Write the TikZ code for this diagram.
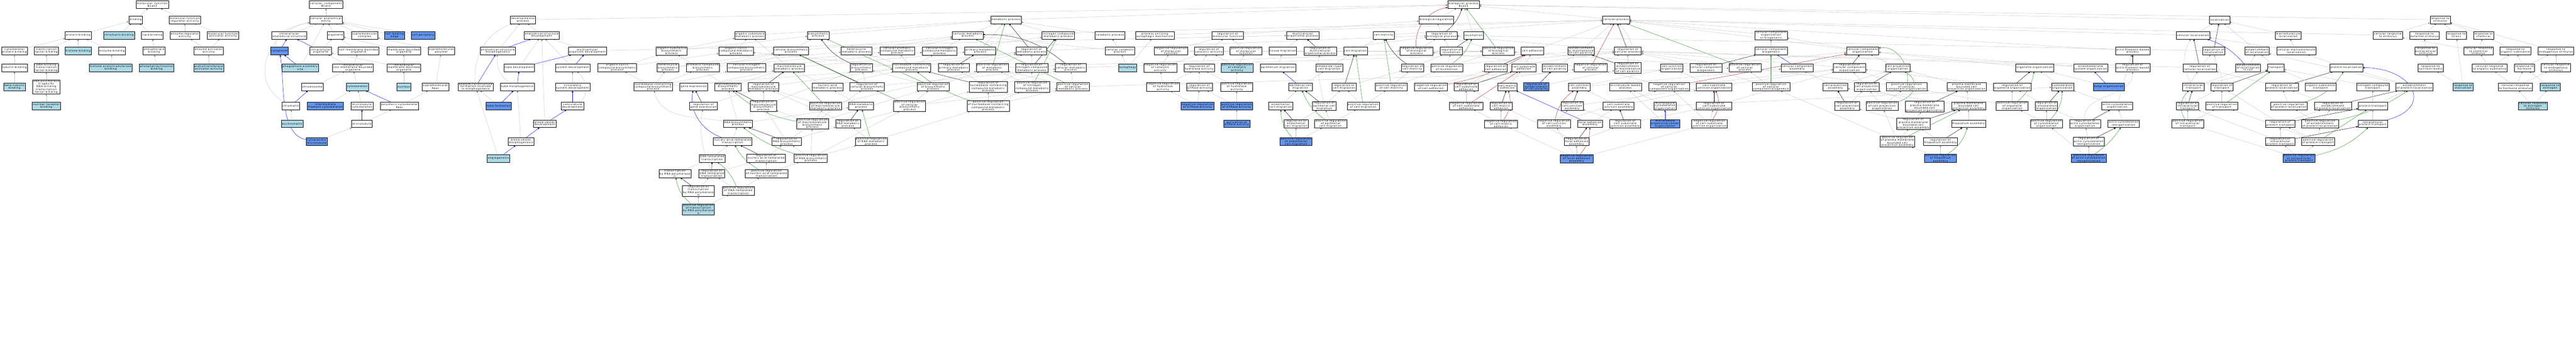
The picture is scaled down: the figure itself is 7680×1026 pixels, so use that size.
\documentclass[tikz,border=0pt]{standalone}
\usepackage{fontspec}
\setmainfont{DejaVu Sans}[LetterSpace=16]
\usetikzlibrary{arrows.meta,backgrounds,shadows}
\definecolor{lb}{HTML}{ADD8E6}
\definecolor{cb}{HTML}{6495ED}
\definecolor{edgegray}{HTML}{C4C4C4}
\definecolor{fgreen}{HTML}{228B22}
\definecolor{fred}{HTML}{B22222}

\begin{document}
\begin{tikzpicture}[x=1pt,y=1pt,
  term/.style={draw=black, line width=0.7pt, fill=white, align=center, inner xsep=2.5pt, inner ysep=1pt,
    minimum height=23pt, font=\fontsize{7.5}{7}\selectfont,
    drop shadow={shadow xshift=0.7pt,shadow yshift=-0.7pt,fill=black!45}},
  anno/.style={term, fill=lb},
  direct/.style={term, fill=cb},
  isa/.style={draw=edgegray, line width=0.7pt, -{Triangle[length=5pt,width=5pt]}},
  partof/.style={isa, draw=blue},
  reg/.style={isa, draw=black},
  preg/.style={isa, draw=fgreen},
  nreg/.style={isa, draw=fred}]
\useasboundingbox (0,0) rectangle (7680,-1026);

% molecular function
\node[term] (mf) at (454,-14) {molecular\_function\\Bcas3};
\node[term] (binding) at (404,-59) {binding};
\node[term] (mfreg) at (551,-59) {molecular function\\regulator activity};
\node[term] (protbind) at (233,-105) {protein binding};
\node[anno] (chrombind) at (355,-105) {chromatin binding};
\node[term] (lipidbind) at (454,-105) {lipid binding};
\node[term] (enzreg) at (551,-105) {enzyme regulator\\activity};
\node[term] (mfact) at (665,-105) {molecular function\\activator activity};
\node[term] (cytoskbind) at (43,-152) {cytoskeletal\\protein binding};
\node[term] (tfbind) at (138,-152) {transcription\\factor binding};
\node[anno] (histbind) at (233,-152) {histone binding};
\node[term] (enzbind) at (334,-152) {enzyme binding};
\node[term] (phosbind) at (459,-152) {phospholipid\\binding};
\node[term] (enzact) at (622,-152) {enzyme activator\\activity};
\node[term] (tubbind) at (43,-202) {tubulin binding};
\node[term] (dbtf) at (138,-202) {DNA-binding\\transcription\\factor binding};
\node[anno] (hatbind) at (330,-202) {histone acetyltransferase\\binding};
\node[anno] (ptdbind) at (467,-202) {phosphatidylinositol\\binding};
\node[anno] (actact) at (622,-202) {acetyltransferase\\activator activity};
\node[anno] (btub) at (43,-259) {beta-tubulin\\binding};
\node[term] (pol2tf) at (138,-259) {RNA polymerase\\II-specific\\DNA-binding\\transcription\\factor binding};
\node[anno] (nrbind) at (138,-316) {nuclear receptor\\binding};

% cellular component
\node[term] (cc) at (972,-14) {cellular\_component\\Bcas3};
\node[term] (cae) at (972,-59) {cellular anatomical\\entity};
\node[term] (ias) at (862,-105) {intracellular\\anatomical structure};
\node[term] (organelle) at (1000,-105) {organelle};
\node[term] (smc) at (1087,-105) {supramolecular\\complex};
\node[direct] (cle) at (1176,-105) {cell leading\\edge};
\node[direct] (cellper) at (1261,-105) {cell periphery};
\node[direct] (cytoplasm) at (833,-152) {cytoplasm};
\node[term] (io) at (956,-152) {intracellular\\organelle};
\node[term] (nmbo) at (1069,-152) {non-membrane-bounded\\organelle};
\node[term] (mbo) at (1204,-152) {membrane-bounded\\organelle};
\node[term] (smp) at (1316,-152) {supramolecular\\polymer};
\node[anno] (pas) at (895,-202) {phagophore assembly\\site};
\node[term] (inmbo) at (1052,-202) {intracellular\\non-membrane-bounded\\organelle};
\node[term] (imbo) at (1204,-202) {intracellular\\membrane-bounded\\organelle};
\node[term] (chromosome) at (931,-259) {chromosome};
\node[anno] (cytoskel) at (1065,-259) {cytoskeleton};
\node[anno] (nucleus) at (1204,-259) {nucleus};
\node[term] (smf) at (1298,-259) {supramolecular\\fiber};
\node[term] (chromatin) at (867,-316) {chromatin};
\node[direct] (ifc) at (970,-316) {intermediate\\filament cytoskeleton};
\node[term] (mtc) at (1079,-316) {microtubule\\cytoskeleton};
\node[term] (pcf) at (1191,-316) {polymeric cytoskeletal\\fiber};
\node[anno] (euchrom) at (871,-369) {euchromatin};
\node[term] (microtub) at (1079,-369) {microtubule};
\node[direct] (cmt) at (944,-422) {cytoplasmic\\microtubule};

% development
\node[term] (devproc) at (1559,-59) {developmental\\process};
\node[term] (asd) at (1615,-105) {anatomical structure\\development};
\node[term] (asm) at (1484,-152) {anatomical structure\\morphogenesis};
\node[term] (mod) at (1751,-152) {multicellular\\organism development};
\node[term] (tubedev) at (1548,-202) {tube development};
\node[term] (sysdev) at (1707,-202) {system development};
\node[term] (ocbp) at (1840,-202) {organic cyclic\\compound biosynthetic\\process};
\node[term] (asfm) at (1418,-259) {anatomical structure\\formation involved\\in morphogenesis};
\node[term] (tubemorph) at (1542,-259) {tube morphogenesis};
\node[term] (csd) at (1707,-259) {circulatory\\system development};
\node[term] (nbcbp) at (1947,-259) {nucleobase-containing\\compound biosynthetic\\process};
\node[direct] (tubeform) at (1486,-316) {tube formation};
\node[term] (vascdev) at (1707,-316) {vasculature\\development};
\node[term] (bvd) at (1624,-369) {blood vessel\\development};
\node[term] (bvm) at (1553,-422) {blood vessel\\morphogenesis};
\node[anno] (angio) at (1486,-472) {angiogenesis};

% biosynthesis and transcription
\node[term] (osmp) at (2236,-105) {organic substance\\metabolic process};
\node[term] (biosyn) at (2439,-105) {biosynthetic\\process};
\node[term] (osbp) at (2002,-152) {organic substance\\biosynthetic\\process};
\node[term] (ocmp) at (2194,-152) {organic cyclic\\compound metabolic\\process};
\node[term] (cbp) at (2358,-152) {cellular biosynthetic\\process};
\node[term] (hmp) at (2553,-152) {heterocycle\\metabolic process};
\node[term] (hbp) at (1991,-202) {heterocycle\\biosynthetic\\process};
\node[term] (acbp) at (2095,-202) {aromatic compound\\biosynthetic\\process};
\node[term] (cncbp) at (2225,-202) {cellular nitrogen\\compound biosynthetic\\process};
\node[term] (mmp) at (2353,-202) {macromolecule\\metabolic process};
\node[term] (rbp) at (2568,-202) {regulation of\\biosynthetic\\process};
\node[term] (geneexp) at (2068,-259) {gene expression};
\node[term] (mbp) at (2170,-259) {macromolecule\\biosynthetic\\process};
\node[term] (rmmp) at (2276,-259) {regulation of\\macromolecule\\metabolic process};
\node[term] (namp) at (2467,-259) {nucleic acid\\metabolic process};
\node[term] (rcbp) at (2585,-259) {regulation of\\cellular biosynthetic\\process};
\node[term] (rge) at (2097,-316) {regulation of\\gene expression};
\node[term] (rmbp) at (2276,-316) {regulation of\\macromolecule\\biosynthetic\\process};
\node[term] (prmmp) at (2461,-316) {positive regulation\\of macromolecule\\metabolic process};
\node[term] (rnamp) at (2567,-316) {RNA metabolic\\process};
\node[term] (rnabp) at (2200,-369) {RNA biosynthetic\\process};
\node[term] (prmbp) at (2422,-369) {positive regulation\\of macromolecule\\biosynthetic\\process};
\node[term] (rrnamp) at (2528,-369) {regulation of\\RNA metabolic\\process};
\node[term] (natt) at (2184,-422) {nucleic acid-templated\\transcription};
\node[term] (rrnabp) at (2345,-422) {regulation of\\RNA biosynthetic\\process};
\node[term] (prrnamp) at (2597,-422) {positive regulation\\of RNA metabolic\\process};
\node[term] (dtt) at (2123,-472) {DNA-templated\\transcription};
\node[term] (rnatt) at (2284,-472) {regulation of\\nucleic acid-templated\\transcription};
\node[term] (prrnabp) at (2417,-472) {positive regulation\\of RNA biosynthetic\\process};
\node[term] (tpol2) at (2012,-518) {transcription\\by RNA polymerase\\II};
\node[term] (rdtt) at (2122,-518) {regulation of\\DNA-templated\\transcription};
\node[term] (prnatt) at (2285,-518) {positive regulation\\of nucleic acid-templated\\transcription};
\node[term] (rtpol2) at (2082,-569) {regulation of\\transcription\\by RNA polymerase\\II};
\node[term] (prdtt) at (2201,-569) {positive regulation\\of DNA-templated\\transcription};
\node[anno] (prtpol2) at (2082,-624) {positive regulation\\of transcription\\by RNA polymerase\\II};

% metabolism
\node[term] (metab) at (2999,-59) {metabolic process};
\node[term] (cmp) at (2885,-105) {cellular metabolic\\process};
\node[term] (ncmp) at (3155,-105) {nitrogen compound\\metabolic process};
\node[term] (camp) at (2675,-152) {cellular aromatic\\compound metabolic\\process};
\node[term] (cncmp) at (2801,-152) {cellular nitrogen\\compound metabolic\\process};
\node[term] (pmp) at (2922,-152) {primary metabolic\\process};
\node[term] (rmp) at (3075,-152) {regulation of\\metabolic process};
\node[term] (nbcmp) at (2718,-202) {nucleobase-containing\\compound metabolic\\process};
\node[term] (rpmp) at (2843,-202) {regulation of\\primary metabolic\\process};
\node[term] (prmp) at (2958,-202) {positive regulation\\of metabolic\\process};
\node[term] (rncmp) at (3076,-202) {regulation of\\nitrogen compound\\metabolic process};
\node[term] (rcmp) at (3192,-202) {regulation of\\cellular metabolic\\process};
\node[term] (pbp) at (2782,-259) {positive regulation\\of biosynthetic\\process};
\node[term] (rnbcmp) at (2946,-259) {regulation of\\nucleobase-containing\\compound metabolic\\process};
\node[term] (prncmp) at (3077,-259) {positive regulation\\of nitrogen\\compound metabolic\\process};
\node[term] (prcmp) at (3199,-259) {positive regulation\\of cellular\\metabolic process};
\node[term] (prcbp) at (2712,-316) {positive regulation\\of cellular\\biosynthetic\\process};
\node[term] (prnbcmp) at (2946,-316) {positive regulation\\of nucleobase-containing\\compound metabolic\\process};

% catabolism, molecular function regulation
\node[term] (catab) at (3309,-105) {catabolic process};
\node[term] (pum) at (3443,-105) {process utilizing\\autophagic mechanism};
\node[term] (rmf) at (3660,-105) {regulation of\\molecular function};
\node[term] (mop) at (3884,-105) {multicellular\\organismal process};
\node[term] (ccp) at (3339,-152) {cellular catabolic\\process};
\node[term] (nrmf) at (3491,-152) {negative regulation\\of molecular\\function};
\node[term] (rca) at (3604,-152) {regulation of\\catalytic activity};
\node[term] (prmf) at (3715,-152) {positive regulation\\of molecular\\function};
\node[term] (tissmig) at (3824,-152) {tissue migration};
\node[anno] (autophagy) at (3362,-202) {autophagy};
\node[term] (nrca) at (3459,-202) {negative regulation\\of catalytic\\activity};
\node[term] (rha) at (3575,-202) {regulation of\\hydrolase activity};
\node[anno] (prca) at (3688,-202) {positive regulation\\of catalytic\\activity};
\node[term] (epimig) at (3810,-202) {epithelium migration};
\node[term] (nrha) at (3467,-259) {negative regulation\\of hydrolase\\activity};
\node[term] (rgtp) at (3576,-259) {regulation of\\GTPase activity};
\node[term] (prha) at (3687,-259) {positive regulation\\of hydrolase\\activity};
\node[direct] (nrgtp) at (3570,-316) {negative regulation\\of GTPase activity};
\node[direct] (prgtp) at (3687,-316) {positive regulation\\of GTPase activity};
\node[term] (endomig) at (3818,-316) {endothelial\\cell migration};
\node[direct] (actgtp) at (3687,-369) {activation of\\GTPase activity};
\node[term] (rendomig) at (3864,-369) {regulation of\\endothelial\\cell migration};
\node[direct] (prendomig) at (3864,-422) {positive regulation\\of endothelial\\cell migration};

% biological process, migration, adhesion
\node[term] (bp) at (4363,-14) {biological\_process\\Bcas3};
\node[term] (biolreg) at (4282,-59) {biological regulation};
\node[term] (cellmot) at (4125,-105) {cell motility};
\node[term] (rbiop) at (4298,-105) {regulation of\\biological process};
\node[term] (locomotion) at (4393,-105) {locomotion};
\node[term] (rmop) at (3936,-152) {regulation of\\multicellular\\organismal process};
\node[term] (cellmig) at (4041,-152) {cell migration};
\node[term] (nrbiop) at (4223,-152) {negative regulation\\of biological\\process};
\node[term] (rloc) at (4327,-152) {regulation of\\locomotion};
\node[term] (prbiop) at (4467,-152) {positive regulation\\of biological\\process};
\node[term] (ameboid) at (3963,-202) {ameboidal-type\\cell migration};
\node[term] (rcellmot) at (4211,-202) {regulation of\\cell motility};
\node[term] (prloc) at (4313,-202) {positive regulation\\of locomotion};
\node[term] (rcelladh) at (4459,-202) {regulation of\\cell adhesion};
\node[term] (epicellmig) at (3877,-259) {epithelial cell\\migration};
\node[term] (rcellmig) at (4007,-259) {regulation of\\cell migration};
\node[term] (prcellmot) at (4148,-259) {positive regulation\\of cell motility};
\node[term] (nrcelladh) at (4266,-259) {negative regulation\\of cell adhesion};
\node[term] (rcsa) at (4371,-259) {regulation of\\cell-substrate\\adhesion};
\node[term] (cma) at (4494,-259) {cell-matrix\\adhesion};
\node[term] (repicellmig) at (3948,-316) {regulation of\\epithelial cell\\migration};
\node[term] (prcellmig) at (4064,-316) {positive regulation\\of cell migration};
\node[term] (nrcsa) at (4371,-316) {negative regulation\\of cell-substrate\\adhesion};
\node[term] (rcma) at (4475,-316) {regulation of\\cell-matrix\\adhesion};
\node[term] (prepicellmig) at (3967,-369) {positive regulation\\of epithelial\\cell migration};
\node[term] (nrcma) at (4475,-369) {negative regulation\\of cell-matrix\\adhesion};

% cellular process
\node[term] (cellproc) at (4818,-59) {cellular process};
\node[term] (celladh) at (4569,-152) {cell adhesion};
\node[term] (eomcp) at (4713,-152) {establishment\\or maintenance\\of cell polarity};
\node[term] (rcp) at (4853,-152) {regulation of\\cellular process};
\node[term] (csadh) at (4543,-202) {cell-substrate\\adhesion};
\node[term] (ecp) at (4635,-202) {establishment\\of cell polarity};
\node[term] (nrcp) at (4742,-202) {negative regulation\\of cellular\\process};
\node[term] (reomcp) at (4853,-202) {regulation of\\establishment\\or maintenance\\of cell polarity};
\node[term] (cjo) at (4984,-202) {cell junction\\organization};
\node[term] (rccb) at (5086,-202) {regulation of\\cellular component\\biogenesis};
\node[direct] (recp) at (4580,-259) {regulation of\\establishment\\of cell polarity};
\node[term] (cja) at (4708,-259) {cell junction\\assembly};
\node[term] (mtbp) at (4846,-259) {microtubule-based\\process};
\node[term] (nrcco) at (4976,-259) {negative regulation\\of cellular\\component organization};
\node[term] (csjo) at (5110,-259) {cell-substrate\\junction organization};
\node[term] (rcja) at (4687,-316) {regulation of\\cell junction\\assembly};
\node[term] (csja) at (4825,-316) {cell-substrate\\junction assembly};
\node[term] (mtco) at (4964,-316) {microtubule\\cytoskeleton\\organization};
\node[term] (rcsjo) at (5110,-316) {regulation of\\cell-substrate\\junction organization};
\node[term] (nrcja) at (4633,-369) {negative regulation\\of cell junction\\assembly};
\node[term] (fadh) at (4740,-369) {focal adhesion\\assembly};
\node[term] (rcsja) at (4845,-369) {regulation of\\cell-substrate\\junction assembly};
\node[direct] (mtoc) at (4964,-369) {microtubule\\organizing center\\organization};
\node[term] (nrcsjo) at (5096,-369) {negative regulation\\of cell-substrate\\junction organization};
\node[term] (rfadh) at (4700,-422) {regulation of\\focal adhesion\\assembly};
\node[direct] (nrfadh) at (4700,-473) {negative regulation\\of focal adhesion\\assembly};

% cellular component organization
\node[term] (ccob) at (5280,-105) {cellular component\\organization\\or biogenesis};
\node[term] (ccb) at (5280,-152) {cellular component\\biogenesis};
\node[term] (cco) at (5553,-152) {cellular component\\organization};
\node[term] (prcp) at (5202,-202) {positive regulation\\of cellular\\process};
\node[term] (cca) at (5358,-202) {cellular component\\assembly};
\node[term] (rcco) at (5514,-202) {regulation of\\cellular component\\organization};
\node[term] (cpo) at (5658,-202) {cell projection\\organization};
\node[term] (prccb) at (5280,-259) {positive regulation\\of cellular\\component biogenesis};
\node[term] (cpa) at (5472,-259) {cell projection\\assembly};
\node[term] (rcpo) at (5565,-259) {regulation of\\cell projection\\organization};
\node[term] (prcco) at (5684,-259) {positive regulation\\of cellular\\component organization};
\node[term] (rcpa) at (5507,-316) {regulation of\\cell projection\\assembly};
\node[term] (prcpo) at (5611,-316) {positive regulation\\of cell projection\\organization};
\node[term] (rpmbcpo) at (5738,-318) {regulation of\\plasma membrane\\bounded cell\\projection organization};
\node[term] (rpmbcpa) at (5704,-369) {regulation of\\plasma membrane\\bounded cell\\projection assembly};
\node[term] (prpmbcpa) at (5657,-422) {positive regulation\\of plasma membrane\\bounded cell\\projection assembly};
\node[term] (rfiloa) at (5785,-422) {regulation of\\filopodium assembly};
\node[direct] (prfiloa) at (5785,-472) {positive regulation\\of filopodium\\assembly};

% organelle and cytoskeleton organization
\node[term] (afbp) at (6358,-152) {actin filament-based\\process};
\node[term] (orgo) at (6066,-202) {organelle organization};
\node[term] (emso) at (6233,-202) {endomembrane\\system organization};
\node[term] (rafbp) at (6358,-202) {regulation of\\actin filament-based\\process};
\node[term] (pmbcpo) at (5863,-259) {plasma membrane\\bounded cell\\projection organization};
\node[term] (rorgo) at (5999,-259) {regulation of\\organelle organization};
\node[term] (cytoo) at (6149,-259) {cytoskeleton\\organization};
\node[direct] (golgi) at (6287,-259) {Golgi organization};
\node[term] (pmbcpa) at (5869,-316) {plasma membrane\\bounded cell\\projection assembly};
\node[term] (prorgo) at (5999,-316) {positive regulation\\of organelle\\organization};
\node[term] (rcytoo) at (6101,-316) {regulation of\\cytoskeleton\\organization};
\node[term] (aco) at (6312,-316) {actin cytoskeleton\\organization};
\node[term] (filoa) at (5869,-369) {filopodium assembly};
\node[term] (prcytoo) at (6101,-369) {positive regulation\\of cytoskeleton\\organization};
\node[term] (raco) at (6216,-369) {regulation of\\actin cytoskeleton\\organization};
\node[term] (acr) at (6331,-369) {actin cytoskeleton\\reorganization};
\node[term] (racr) at (6227,-422) {regulation of\\actin cytoskeleton\\reorganization};
\node[direct] (pracr) at (6227,-472) {positive regulation\\of actin cytoskeleton\\reorganization};

% localization
\node[term] (loc) at (6617,-59) {localization};
\node[term] (cellloc) at (6538,-105) {cellular localization};
\node[term] (mmloc) at (6822,-105) {macromolecule\\localization};
\node[term] (rlocz) at (6600,-152) {regulation of\\localization};
\node[term] (eol) at (6729,-152) {establishment\\of localization};
\node[term] (cmmloc) at (6846,-152) {cellular macromolecule\\localization};
\node[term] (rcloc) at (6558,-202) {regulation of\\cellular localization};
\node[term] (eolc) at (6702,-202) {establishment\\of localization\\in cell};
\node[term] (transport) at (6785,-202) {transport};
\node[term] (protloc) at (6995,-202) {protein localization};
\node[term] (ict) at (6539,-259) {intracellular\\transport};
\node[term] (rtransp) at (6624,-259) {regulation of\\transport};
\node[term] (rprotloc) at (6803,-259) {regulation of\\protein localization};
\node[term] (ost) at (6918,-259) {organic substance\\transport};
\node[term] (nct) at (7074,-259) {nitrogen compound\\transport};
\node[term] (rict) at (6522,-316) {regulation of\\intracellular\\transport};
\node[term] (prtransp) at (6624,-316) {positive regulation\\of transport};
\node[term] (prprotloc) at (6824,-316) {positive regulation\\of protein localization};
\node[term] (repl) at (6955,-316) {regulation of\\establishment\\of protein localization};
\node[term] (prottr) at (7074,-316) {protein transport};
\node[term] (prict) at (6522,-369) {positive regulation\\of intracellular\\transport};
\node[term] (rprottr) at (6798,-369) {regulation of\\protein transport};
\node[term] (prepl) at (6917,-369) {positive regulation\\of establishment\\of protein localization};
\node[term] (iprot) at (7074,-369) {intracellular\\protein transport};
\node[term] (riprot) at (6798,-422) {regulation of\\intracellular\\protein transport};
\node[term] (prprottr) at (6911,-422) {positive regulation\\of protein transport};
\node[direct] (pripr) at (6854,-472) {positive regulation\\of intracellular\\protein transport};

% response to stimulus
\node[term] (rts) at (7275,-59) {response to\\stimulus};
\node[term] (crs) at (7119,-105) {cellular response\\to stimulus};
\node[term] (res) at (7228,-105) {response to\\external stimulus};
\node[term] (rstress) at (7323,-105) {response to\\stress};
\node[term] (rchem) at (7404,-105) {response to\\chemical};
\node[term] (rexs) at (7232,-152) {response to\\extracellular\\stimulus};
\node[term] (crchem) at (7389,-152) {cellular response\\to chemical\\stimulus};
\node[term] (ros) at (7499,-152) {response to\\organic substance};
\node[term] (rendo) at (7620,-152) {response to\\endogenous stimulus};
\node[term] (rnl) at (7246,-202) {response to\\nutrient levels};
\node[term] (cros) at (7422,-202) {cellular response\\to organic substance};
\node[term] (rhorm) at (7526,-202) {response to\\hormone};
\node[term] (crendo) at (7620,-202) {cellular response\\to endogenous\\stimulus};
\node[term] (eprotloc) at (7198,-259) {establishment\\of protein localization};
\node[anno] (rstarv) at (7343,-259) {response to\\starvation};
\node[term] (crhs) at (7499,-259) {cellular response\\to hormone stimulus};
\node[anno] (restr) at (7603,-259) {response to\\estrogen};
\node[anno] (crestr) at (7551,-316) {cellular response\\to estrogen\\stimulus};

\begin{pgfonlayer}{background}
% molecular function
\path[isa] (binding) edge (mf);
\path[isa] (mfreg) edge (mf);
\path[isa] (protbind) edge (binding);
\path[isa] (chrombind) edge (binding);
\path[isa] (lipidbind) edge (binding);
\path[isa] (enzreg) edge (mfreg);
\path[isa] (mfact) edge (mfreg);
\path[isa] (cytoskbind) edge (protbind);
\path[isa] (tfbind) edge (protbind);
\path[isa] (histbind) edge (protbind);
\path[isa] (enzbind) edge (protbind);
\path[isa] (phosbind) edge (lipidbind);
\path[isa] (enzact) edge (enzreg) edge (mfact);
\path[isa] (tubbind) edge (cytoskbind);
\path[isa] (dbtf) edge (tfbind);
\path[isa] (hatbind) edge (enzbind);
\path[isa] (ptdbind) edge (phosbind);
\path[isa] (actact) edge (enzact);
\path[isa] (btub) edge (tubbind);
\path[isa] (pol2tf) edge (dbtf);
\path[isa] (nrbind) edge (pol2tf);

% cellular component
\path[isa] (cae) edge (cc);
\path[isa] (ias) edge (cae);
\path[isa] (organelle) edge (cae);
\path[isa] (smc) edge (cae);
\path[isa] (cle) edge (cae);
\path[isa] (cellper) edge (cae);
\path[isa] (cytoplasm) edge[out=120,in=190] (cae);
\path[isa] (pas) edge (cae);
\path[isa] (chromatin) edge[out=150,in=190,looseness=1.3] (cae);
\path[partof] (cytoplasm) edge (ias);
\path[partof] (io) edge (ias);
\path[isa] (io) edge (organelle);
\path[isa] (nmbo) edge (organelle);
\path[isa] (mbo) edge (organelle);
\path[isa] (smp) edge (smc);
\path[isa] (inmbo) edge (io) edge (nmbo);
\path[isa] (imbo) edge (io) edge (mbo);
\path[partof] (pas) edge (cytoplasm);
\path[isa] (chromosome) edge (inmbo);
\path[isa] (cytoskel) edge (inmbo);
\path[isa] (nucleus) edge (imbo);
\path[isa] (smf) edge (smp);
\path[partof] (chromatin) edge (chromosome);
\path[isa] (ifc) edge (cytoskel);
\path[isa] (mtc) edge (cytoskel);
\path[partof] (pcf) edge (cytoskel);
\path[isa] (pcf) edge (smf);
\path[isa] (euchrom) edge (chromatin);
\path[partof] (microtub) edge (mtc);
\path[isa] (microtub) edge (pcf);
\path[isa] (cmt) edge (microtub);
\path[partof] (cmt) edge[out=170,in=-80,looseness=0.8] (cytoplasm);

% development
\path[isa] (devproc) edge (bp);
\path[isa] (asd) edge (devproc);
\path[isa] (asm) edge (devproc);
\path[isa] (asfm) edge[out=95,in=200] (devproc);
\path[partof] (asm) edge (asd);
\path[isa] (tubedev) edge (asd);
\path[isa] (bvd) edge (asd);
\path[isa] (sysdev) edge (asd);
\path[isa] (mod) edge (asd) edge (mop);
\path[partof] (tubedev) edge (mod);
\path[partof] (sysdev) edge (mod);
\path[isa] (tubemorph) edge[out=150,in=-95] (asm);
\path[partof] (asfm) edge (asm);
\path[partof] (tubemorph) edge (tubedev);
\path[isa] (csd) edge (sysdev);
\path[isa] (vascdev) edge[out=30,in=-40] (sysdev);
\path[isa] (tubeform) edge (asfm);
\path[partof] (tubeform) edge (tubemorph);
\path[isa] (angio) edge (asfm);
\path[isa] (bvm) edge (tubemorph);
\path[partof] (vascdev) edge (csd);
\path[partof] (bvd) edge (vascdev);
\path[partof] (bvm) edge (bvd);
\path[partof] (angio) edge (bvm);

% biosynthesis and transcription
\path[isa] (metab) edge (bp);
\path[isa] (osmp) edge (metab);
\path[isa] (biosyn) edge (metab);
\path[isa] (cmp) edge (metab) edge (cellproc);
\path[isa] (pmp) edge (metab);
\path[isa] (ncmp) edge (metab);
\path[reg] (rmp) edge (metab);
\path[isa] (rmp) edge (rbiop);
\path[preg] (prmp) edge (metab);
\path[isa] (prmp) edge (rmp) edge (prbiop);
\path[isa] (catab) edge (metab);
\path[isa] (osbp) edge (osmp) edge (biosyn);
\path[isa] (ocmp) edge (osmp);
\path[isa] (mmp) edge (osmp) edge (pmp);
\path[isa] (cbp) edge (biosyn) edge (cmp);
\path[isa] (hmp) edge (cmp);
\path[isa] (ocbp) edge (ocmp) edge (osbp);
\path[isa] (hbp) edge (hmp) edge (cbp);
\path[isa] (acbp) edge (camp) edge (cbp);
\path[isa] (cncbp) edge (cncmp) edge (cbp);
\path[isa] (nbcbp) edge (nbcmp) edge (hbp) edge (acbp) edge (cncbp) edge (ocbp);
\path[isa] (geneexp) edge (mmp);
\path[isa] (mbp) edge (mmp) edge (osbp);
\path[reg] (rmmp) edge (mmp);
\path[isa] (rmmp) edge (rmp);
\path[isa] (namp) edge (nbcmp) edge (mmp);
\path[reg] (rge) edge (geneexp);
\path[isa] (rge) edge (rmmp);
\path[reg] (rmbp) edge (mbp);
\path[isa] (rmbp) edge (rmmp) edge (rbp);
\path[preg] (prmmp) edge (mmp);
\path[isa] (prmmp) edge (rmmp) edge (prmp);
\path[isa] (rnamp) edge (namp);
\path[isa] (rnabp) edge (mbp) edge[out=170,in=-75] (nbcbp) edge (rnamp);
\path[preg] (prmbp) edge[bend left=15] (mbp);
\path[isa] (prmbp) edge (rmbp) edge (prmmp) edge (pbp);
\path[reg] (rrnamp) edge (rnamp);
\path[isa] (rrnamp) edge (rmmp) edge (rnbcmp);
\path[isa] (natt) edge (rnabp);
\path[partof] (natt) edge[out=160,in=-100] (geneexp);
\path[reg] (rrnabp) edge (rnabp);
\path[isa] (rrnabp) edge (rmbp) edge (rrnamp) edge (rcbp);
\path[isa] (prrnamp) edge (rrnamp) edge (prnbcmp);
\path[preg] (prrnamp) edge (rnamp);
\path[isa] (dtt) edge (natt);
\path[reg] (rnatt) edge (natt);
\path[isa] (rnatt) edge (rrnabp);
\path[preg] (prrnabp) edge[bend left=10] (rnabp);
\path[isa] (prrnabp) edge (rrnabp) edge (prmbp) edge (prrnamp) edge (prcbp);
\path[isa] (tpol2) edge (dtt);
\path[reg] (rdtt) edge (dtt);
\path[isa] (rdtt) edge (rnatt) edge[out=110,in=-100] (rge);
\path[preg] (prnatt) edge[bend left=15] (natt);
\path[isa] (prnatt) edge (rnatt) edge (prrnabp);
\path[reg] (rtpol2) edge (tpol2);
\path[isa] (rtpol2) edge (rdtt);
\path[preg] (prdtt) edge[bend right=15] (dtt);
\path[isa] (prdtt) edge (rdtt) edge (prnatt);
\path[preg] (prtpol2) edge[bend left=20] (tpol2);
\path[isa] (prtpol2) edge (rtpol2) edge (prdtt);

% metabolism
\path[isa] (camp) edge (cmp);
\path[isa] (cncmp) edge (cmp) edge (ncmp);
\path[isa] (nbcmp) edge (camp) edge (cncmp) edge (hmp) edge (ocmp);
\path[reg] (rpmp) edge (pmp);
\path[isa] (rpmp) edge (rmp);
\path[reg] (rncmp) edge (ncmp);
\path[isa] (rncmp) edge (rmp);
\path[reg] (rcmp) edge[bend right=20] (cmp);
\path[isa] (rcmp) edge (rmp) edge (rcp);
\path[reg] (rbp) edge[bend left=15] (biosyn);
\path[isa] (rbp) edge (rmp);
\path[reg] (rcbp) edge (cbp);
\path[isa] (rcbp) edge (rbp) edge (rcmp);
\path[reg] (rnbcmp) edge (nbcmp);
\path[isa] (rnbcmp) edge (rpmp) edge (rcmp) edge (rncmp);
\path[preg] (prncmp) edge (ncmp);
\path[isa] (prncmp) edge (rncmp) edge (prmp);
\path[preg] (prcmp) edge (cmp);
\path[isa] (prcmp) edge (rcmp) edge (prmp) edge (prcp);
\path[preg] (pbp) edge (biosyn);
\path[isa] (pbp) edge (rbp) edge (prmp);
\path[preg] (prcbp) edge (cbp);
\path[isa] (prcbp) edge (rcbp) edge (pbp) edge (prcmp);
\path[preg] (prnbcmp) edge[bend left=10] (nbcmp);
\path[isa] (prnbcmp) edge (rnbcmp) edge (prncmp) edge (prcmp);

% catabolism, molecular function regulation
\path[isa] (ccp) edge (catab) edge (cmp);
\path[isa] (autophagy) edge (ccp) edge (pum);
\path[isa] (pum) edge (cellproc);
\path[isa] (rmf) edge (biolreg);
\path[isa] (nrmf) edge (rmf) edge (nrbiop);
\path[isa] (rca) edge (rmf);
\path[isa] (prmf) edge (rmf) edge (prbiop);
\path[isa] (nrca) edge (nrmf) edge (rca);
\path[isa] (rha) edge (rca);
\path[isa] (prca) edge (rca) edge (prmf);
\path[isa] (nrha) edge (nrca) edge (rha);
\path[isa] (rgtp) edge (rha);
\path[isa] (prha) edge (rha) edge (prca);
\path[isa] (nrgtp) edge (nrha) edge (rgtp);
\path[isa] (prgtp) edge (rgtp) edge (prha);
\path[isa] (actgtp) edge (prgtp);

% migration
\path[isa] (cellmot) edge (cellproc);
\path[isa] (cellmig) edge (cellmot);
\path[isa] (tissmig) edge (mop);
\path[isa] (epimig) edge (tissmig);
\path[isa] (ameboid) edge (cellmig);
\path[isa] (epicellmig) edge (ameboid);
\path[partof] (epicellmig) edge (epimig);
\path[isa] (endomig) edge (epicellmig);
\path[reg] (rendomig) edge (endomig);
\path[isa] (rendomig) edge (repicellmig);
\path[preg] (prendomig) edge[bend left=20] (endomig);
\path[isa] (prendomig) edge (rendomig) edge (prepicellmig);
\path[reg] (rmop) edge (mop);
\path[isa] (rmop) edge (rbiop);
\path[reg] (rcellmig) edge (cellmig);
\path[isa] (rcellmig) edge (rcellmot);
\path[reg] (repicellmig) edge (epicellmig);
\path[isa] (repicellmig) edge (rcellmig) edge[out=100,in=-100] (rmop);
\path[preg] (prepicellmig) edge[bend left=15] (epicellmig);
\path[isa] (prepicellmig) edge (repicellmig) edge (prcellmig);
\path[preg] (prcellmig) edge (cellmig);
\path[isa] (prcellmig) edge (rcellmig) edge (prcellmot);
\path[reg] (rcellmot) edge[bend left=15] (cellmot);
\path[isa] (rcellmot) edge (rloc) edge (rcp);
\path[preg] (prcellmot) edge (cellmot);
\path[isa] (prcellmot) edge (rcellmot) edge (prloc);
\path[reg] (rloc) edge (locomotion);
\path[isa] (rloc) edge (rbiop);
\path[preg] (prloc) edge[bend right=15] (locomotion);
\path[isa] (prloc) edge (rloc) edge (prbiop);
\path[reg] (rbiop) edge[bend right=15] (bp);
\path[isa] (rbiop) edge (biolreg);
\path[nreg] (nrbiop) edge[out=95,in=190] (bp);
\path[isa] (nrbiop) edge (rbiop);
\path[preg] (prbiop) edge (bp);
\path[isa] (prbiop) edge (rbiop);
\path[isa] (biolreg) edge (bp);
\path[isa] (locomotion) edge (bp);

% adhesion
\path[isa] (celladh) edge (cellproc);
\path[isa] (csadh) edge (celladh);
\path[isa] (cma) edge (csadh);
\path[reg] (rcelladh) edge (celladh);
\path[isa] (rcelladh) edge (rcp);
\path[nreg] (nrcelladh) edge[bend right=10] (celladh);
\path[isa] (nrcelladh) edge (rcelladh) edge (nrcp);
\path[reg] (rcsa) edge (csadh);
\path[isa] (rcsa) edge (rcelladh);
\path[nreg] (nrcsa) edge (csadh);
\path[isa] (nrcsa) edge (rcsa) edge (nrcelladh);
\path[reg] (rcma) edge (cma);
\path[isa] (rcma) edge (rcsa);
\path[nreg] (nrcma) edge[bend right=25] (cma);
\path[isa] (nrcma) edge (rcma) edge (nrcsa);
\path[partof] (fadh) edge (cma);
\path[isa] (fadh) edge (csja);
\path[reg] (rfadh) edge (fadh);
\path[isa] (rfadh) edge (rcsja) edge (rcma);
\path[nreg] (nrfadh) edge[bend right=20] (fadh);
\path[isa] (nrfadh) edge (rfadh) edge (nrcja) edge (nrcma) edge (nrcsjo);
\path[isa] (cja) edge (cjo) edge (cca);
\path[reg] (rcja) edge (cja);
\path[isa] (rcja) edge (rcco);
\path[nreg] (nrcja) edge[bend left=20] (cja);
\path[isa] (nrcja) edge (rcja) edge (nrcco);
\path[isa] (csja) edge (cja) edge (csjo);
\path[reg] (rcsja) edge (csja);
\path[isa] (rcsja) edge (rcja) edge (rcsjo);
\path[isa] (csjo) edge (cjo);
\path[reg] (rcsjo) edge (csjo);
\path[isa] (rcsjo) edge (rcco);
\path[nreg] (nrcsjo) edge[bend right=30] (csjo);
\path[isa] (nrcsjo) edge (rcsjo) edge (nrcco);
\path[isa] (cjo) edge (cco);

% polarity, microtubules
\path[isa] (eomcp) edge (cellproc);
\path[isa] (ecp) edge (eomcp);
\path[reg] (reomcp) edge (eomcp);
\path[isa] (reomcp) edge (rcp);
\path[reg] (recp) edge (ecp);
\path[isa] (recp) edge (reomcp);
\path[reg] (rcp) edge (cellproc);
\path[isa] (rcp) edge (rbiop);
\path[nreg] (nrcp) edge (cellproc);
\path[isa] (nrcp) edge (rcp) edge (nrbiop);
\path[preg] (prcp) edge (cellproc);
\path[isa] (prcp) edge (rcp) edge (prbiop);
\path[isa] (mtbp) edge[out=60,in=-50] (cellproc);
\path[isa] (mtco) edge (mtbp) edge (cytoo);
\path[partof] (mtoc) edge (mtco);
\path[isa] (mtoc) edge (mtbp);

% cellular component organization
\path[isa] (ccob) edge (bp);
\path[isa] (ccb) edge (ccob);
\path[isa] (cco) edge (ccob) edge (cellproc);
\path[partof] (cca) edge (ccb);
\path[isa] (cca) edge (cco);
\path[reg] (rccb) edge (ccb);
\path[isa] (rccb) edge (rcp);
\path[preg] (prccb) edge (ccb);
\path[isa] (prccb) edge (rccb) edge (prcp);
\path[reg] (rcco) edge (cco);
\path[isa] (rcco) edge (rcp);
\path[nreg] (nrcco) edge (cco);
\path[isa] (nrcco) edge (rcco) edge (nrcp);
\path[preg] (prcco) edge[out=80,in=10] (cco);
\path[isa] (prcco) edge (rcco) edge (prcp);
\path[isa] (cpo) edge (cco);
\path[isa] (cpa) edge (cpo) edge (cca);
\path[reg] (rcpo) edge (cpo);
\path[isa] (rcpo) edge (rcco);
\path[preg] (prcpo) edge[out=15,in=-30,looseness=1.5] (cpo);
\path[isa] (prcpo) edge (rcpo) edge (prcco);
\path[reg] (rcpa) edge (cpa);
\path[isa] (rcpa) edge (rcpo);
\path[reg] (rpmbcpo) edge (pmbcpo);
\path[isa] (rpmbcpo) edge (rcpo);
\path[reg] (rpmbcpa) edge (pmbcpa);
\path[isa] (rpmbcpa) edge (rpmbcpo) edge (rcpa);
\path[preg] (prpmbcpa) edge (pmbcpa);
\path[isa] (prpmbcpa) edge (rpmbcpa) edge (prcpo) edge (prccb);
\path[reg] (rfiloa) edge (filoa);
\path[isa] (rfiloa) edge (rpmbcpa);
\path[preg] (prfiloa) edge[bend right=20] (filoa);
\path[isa] (prfiloa) edge (rfiloa) edge (prpmbcpa);
\path[isa] (pmbcpo) edge (cpo);
\path[isa] (pmbcpa) edge (pmbcpo) edge (cpa);
\path[isa] (filoa) edge (pmbcpa);

% organelle and cytoskeleton organization
\path[isa] (orgo) edge (cco);
\path[reg] (rorgo) edge (orgo);
\path[isa] (rorgo) edge (rcco);
\path[isa] (cytoo) edge (orgo);
\path[preg] (prorgo) edge[bend right=20] (orgo);
\path[isa] (prorgo) edge (rorgo) edge (prcco);
\path[reg] (rcytoo) edge (cytoo);
\path[isa] (rcytoo) edge (rorgo);
\path[preg] (prcytoo) edge[bend right=20] (cytoo);
\path[isa] (prcytoo) edge (rcytoo) edge (prorgo);
\path[isa] (aco) edge (cytoo) edge (afbp);
\path[reg] (raco) edge (aco);
\path[isa] (raco) edge (rcytoo) edge[out=95,in=-90] (rafbp);
\path[isa] (acr) edge (aco);
\path[reg] (racr) edge (acr);
\path[isa] (racr) edge (raco);
\path[preg] (pracr) edge[bend right=10] (acr);
\path[isa] (pracr) edge (racr) edge (prcytoo);
\path[isa] (afbp) edge (cellproc);
\path[reg] (rafbp) edge (afbp);
\path[isa] (rafbp) edge (rcp);
\path[isa] (emso) edge (cco);
\path[partof] (golgi) edge (emso);
\path[isa] (golgi) edge (orgo);

% localization
\path[isa] (loc) edge (bp);
\path[isa] (cellloc) edge (loc) edge (cellproc);
\path[isa] (mmloc) edge (loc);
\path[reg] (rlocz) edge (loc);
\path[isa] (rlocz) edge (rbiop);
\path[isa] (eol) edge (loc);
\path[isa] (cmmloc) edge (mmloc) edge (cellloc);
\path[reg] (rcloc) edge (cellloc);
\path[isa] (rcloc) edge (rlocz) edge (rcp);
\path[isa] (eolc) edge (eol);
\path[partof] (eolc) edge[bend right=15] (cellloc);
\path[isa] (transport) edge (eol);
\path[isa] (protloc) edge (cmmloc);
\path[isa] (ict) edge[out=120,in=-120] (cellloc) edge (eolc) edge (transport);
\path[reg] (rtransp) edge (transport);
\path[isa] (rtransp) edge[out=90,in=-80] (rlocz);
\path[reg] (rprotloc) edge (protloc);
\path[isa] (rprotloc) edge (rcloc);
\path[isa] (ost) edge (transport);
\path[isa] (nct) edge (transport);
\path[reg] (rict) edge (ict);
\path[isa] (rict) edge (rtransp) edge[out=110,in=-120] (rcloc);
\path[preg] (prtransp) edge (transport);
\path[isa] (prtransp) edge (rtransp);
\path[preg] (prprotloc) edge[bend right=20] (protloc);
\path[isa] (prprotloc) edge (rprotloc);
\path[reg] (repl) edge (eprotloc);
\path[isa] (repl) edge (rprotloc);
\path[isa] (prottr) edge (nct) edge (eprotloc);
\path[preg] (prict) edge[bend left=40] (ict);
\path[isa] (prict) edge (rict) edge (prtransp);
\path[reg] (rprottr) edge (prottr);
\path[isa] (rprottr) edge (rtransp) edge (repl);
\path[preg] (prepl) edge[bend right=10] (eprotloc);
\path[isa] (prepl) edge (repl) edge (prprotloc);
\path[partof] (iprot) edge[out=15,in=0,looseness=2.2] (protloc);
\path[isa] (iprot) edge (prottr);
\path[reg] (riprot) edge (iprot);
\path[isa] (riprot) edge (rprottr) edge (rict);
\path[preg] (prprottr) edge (prottr);
\path[isa] (prprottr) edge (rprottr) edge (prepl) edge (prtransp);
\path[preg] (pripr) edge[bend right=15] (iprot);
\path[isa] (pripr) edge (riprot) edge (prprottr) edge (prict);
\path[isa] (eprotloc) edge (protloc) edge (eol);

% response to stimulus
\path[isa] (rts) edge (bp);
\path[isa] (crs) edge (rts) edge (cellproc);
\path[isa] (res) edge (rts);
\path[isa] (rstress) edge (rts);
\path[isa] (rchem) edge (rts);
\path[isa] (rendo) edge (rts);
\path[isa] (rexs) edge (res);
\path[isa] (crchem) edge (rchem) edge (crs);
\path[isa] (ros) edge (rchem);
\path[isa] (rnl) edge (rexs);
\path[isa] (cros) edge (crchem) edge (ros);
\path[isa] (rhorm) edge (ros) edge (rendo);
\path[isa] (crendo) edge (rendo);
\path[isa] (rstarv) edge (rnl) edge (rstress);
\path[isa] (crhs) edge (cros) edge (rhorm) edge (crendo);
\path[isa] (restr) edge (rhorm);
\path[isa] (crestr) edge (crhs) edge (restr);
\end{pgfonlayer}
\end{tikzpicture}
\end{document}
